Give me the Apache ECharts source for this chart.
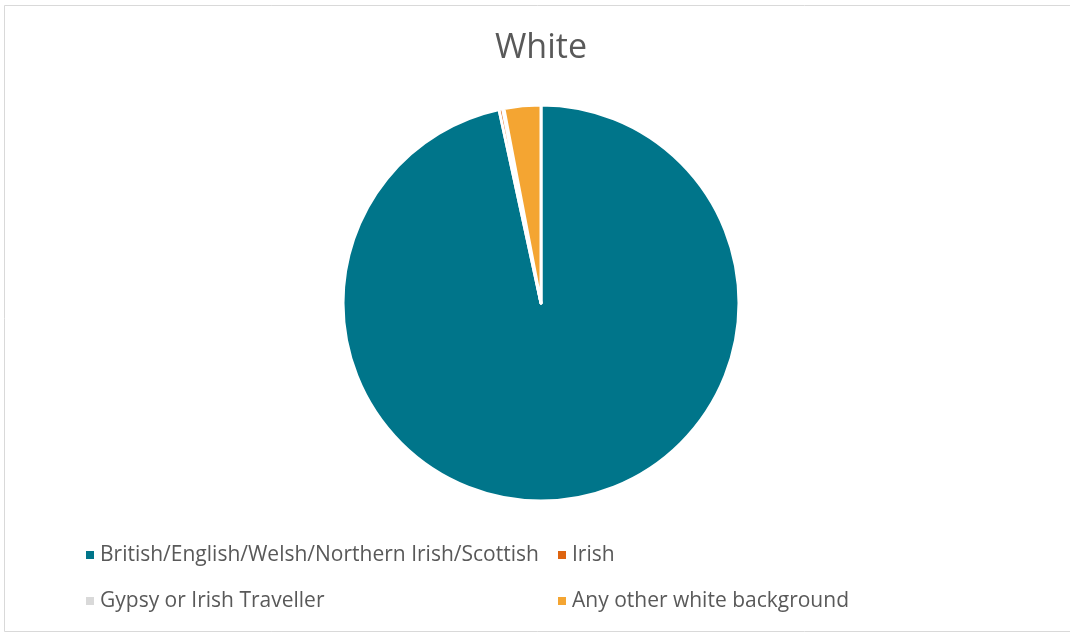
<!DOCTYPE html>
<html>
<head>
<meta charset="utf-8">
<script src="https://cdn.jsdelivr.net/npm/echarts@6/dist/echarts.min.js"></script>
<style>
  html, body { margin: 0; padding: 0; background: #ffffff; }
  #chart { width: 1070px; height: 633px; }
</style>
</head>
<body>
<div id="chart"></div>
<script>
// Ethnic groups within the White category (share of respondents, %)
const categories = [
  'British/English/Welsh/Northern Irish/Scottish',
  'Irish',
  'Gypsy or Irish Traveller',
  'Any other white background'
];
const values = [96.6, 0.3, 0.1, 3.0];
const colors = ['#00758A', '#DE6410', '#D9D9D9', '#F4A532'];

const FONT = '"Open Sans", "Noto Sans", sans-serif';

const chart = echarts.init(document.getElementById('chart'), null, { renderer: 'canvas' });

const legendText = { fontFamily: FONT, fontSize: 21, lineHeight: 24, color: '#595959' };

chart.setOption({
  animation: false,
  backgroundColor: '#ffffff',
  legend: [
    {
      orient: 'vertical',
      left: 79,
      top: 538,
      icon: 'rect',
      itemWidth: 10,
      itemHeight: 10,
      itemGap: 22,
      textStyle: legendText,
      data: [categories[0], categories[2]]
    },
    {
      orient: 'vertical',
      left: 551,
      top: 538,
      icon: 'rect',
      itemWidth: 10,
      itemHeight: 10,
      itemGap: 22,
      textStyle: legendText,
      data: [categories[1], categories[3]]
    }
  ],
  graphic: [
    {
      type: 'rect',
      shape: { x: 4.5, y: 5.5, width: 1080, height: 626 },
      style: { fill: 'none', stroke: '#D9D9D9', lineWidth: 1 },
      silent: true
    },
    {
      type: 'text',
      x: 541,
      y: 48,
      silent: true,
      style: {
        text: 'White',
        fontFamily: FONT,
        fontSize: 34,
        fill: '#595959',
        textAlign: 'center',
        textVerticalAlign: 'middle'
      }
    }
  ],
  series: [
    {
      type: 'pie',
      center: [541, 303],
      radius: [0, 198],
      startAngle: 90,
      clockwise: true,
      label: { show: false },
      labelLine: { show: false },
      emphasis: { disabled: true },
      itemStyle: { borderColor: '#ffffff', borderWidth: 3 },
      data: categories.map((name, i) => ({
        name,
        value: values[i],
        itemStyle: { color: colors[i] }
      }))
    }
  ]
});
</script>
</body>
</html>
